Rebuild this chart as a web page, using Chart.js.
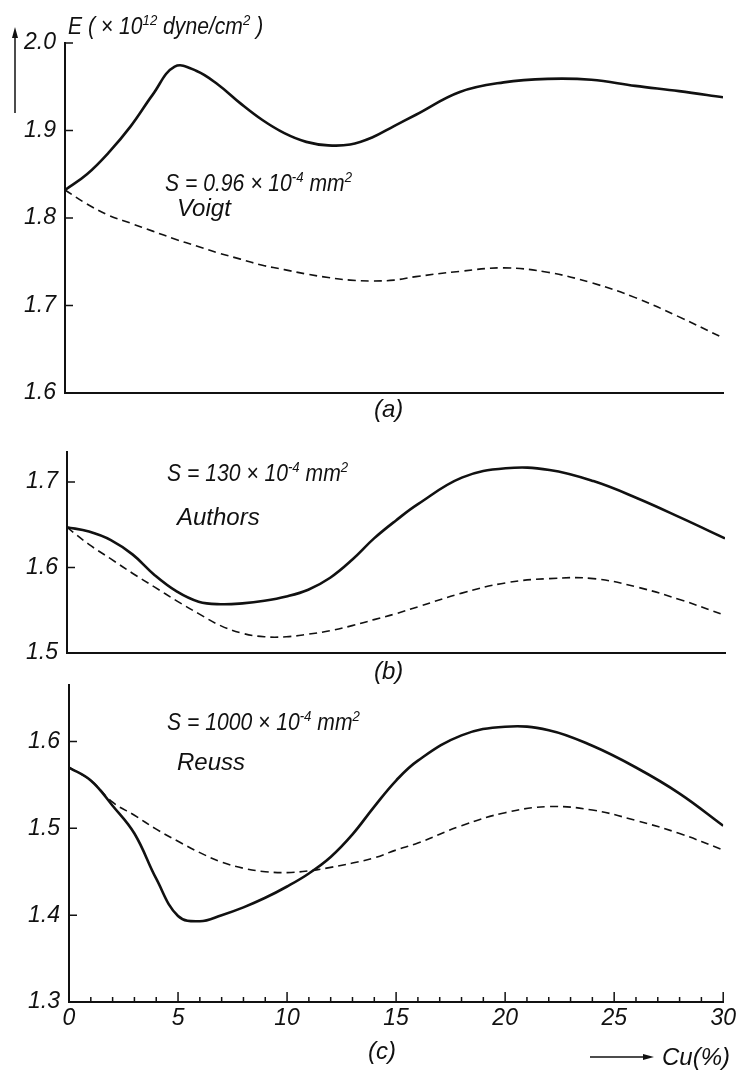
<!DOCTYPE html>
<html>
<head>
<meta charset="utf-8">
<script src="https://cdn.jsdelivr.net/npm/chart.js@4.4.0/dist/chart.umd.min.js"></script>
<style>
  body { margin: 0; background: #fff; }
  #page { position: relative; width: 739px; height: 1070px; overflow: hidden;
          font-family: 'Liberation Sans', sans-serif; font-style: italic; color: #111; }
  canvas { position: absolute; left: 0; }
  .lbl { position: absolute; font-size: 24px; line-height: 24px; white-space: nowrap; }
  .lbl sup { font-size: 15px; vertical-align: 9px; line-height: 0; }
  .narrow { transform: scaleX(0.88); transform-origin: left center; }
  svg { position: absolute; left: 0; top: 0; }
</style>
</head>
<body>
<div id="page">
  <canvas id="chartA" width="739" height="420" style="top:0px"></canvas>
  <canvas id="chartB" width="739" height="270" style="top:420px"></canvas>
  <canvas id="chartC" width="739" height="410" style="top:660px"></canvas>

  <div class="lbl narrow" style="left:68px; top:14px;">E ( × 10<sup>12</sup> dyne/cm<sup>2</sup> )</div>
  <div class="lbl narrow" style="left:165px; top:171px;">S = 0.96 × 10<sup>-4</sup> mm<sup>2</sup></div>
  <div class="lbl" style="left:177px; top:196px;">Voigt</div>
  <div class="lbl" style="left:374px; top:397px;">(a)</div>

  <div class="lbl narrow" style="left:167px; top:461px;">S = 130 × 10<sup>-4</sup> mm<sup>2</sup></div>
  <div class="lbl" style="left:177px; top:505px;">Authors</div>
  <div class="lbl" style="left:374px; top:659px;">(b)</div>

  <div class="lbl narrow" style="left:167px; top:710px;">S = 1000 × 10<sup>-4</sup> mm<sup>2</sup></div>
  <div class="lbl" style="left:177px; top:750px;">Reuss</div>
  <div class="lbl" style="left:368px; top:1039px;">(c)</div>
  <div class="lbl" style="left:662px; top:1045px;">Cu(%)</div>

  <svg width="739" height="1070">
    <line x1="15" y1="36" x2="15" y2="113" stroke="#111" stroke-width="1.5"/>
    <polygon points="15,27 12,38 18,38" fill="#111"/>
    <line x1="590" y1="1057" x2="645" y2="1057" stroke="#111" stroke-width="1.5"/>
    <polygon points="654,1057 643,1054 643,1060" fill="#111"/>
  </svg>
</div>

<script>
// Cu content (%)
const cu = [0, 1, 2, 3, 4, 5, 6, 7, 8, 9, 10, 11, 12, 13, 14, 15, 16, 18, 20, 22, 24, 26, 28, 30];

// (a) S = 0.96e-4 mm2, Voigt
const expA   = [1.832, 1.850, 1.875, 1.905, 1.941, 1.973, 1.968, 1.952, 1.931, 1.912, 1.897, 1.887, 1.883, 1.884, 1.892, 1.905, 1.918, 1.944, 1.955, 1.959, 1.958, 1.951, 1.945, 1.938];
const voigtA = [1.832, 1.816, 1.803, 1.794, 1.785, 1.776, 1.768, 1.760, 1.753, 1.746, 1.741, 1.736, 1.732, 1.729, 1.728, 1.729, 1.733, 1.739, 1.743, 1.738, 1.726, 1.709, 1.687, 1.663];

// (b) S = 130e-4 mm2, Authors
const expB     = [1.647, 1.642, 1.632, 1.615, 1.591, 1.572, 1.560, 1.557, 1.558, 1.561, 1.566, 1.574, 1.588, 1.609, 1.634, 1.655, 1.674, 1.705, 1.716, 1.714, 1.701, 1.681, 1.658, 1.634];
const authorsB = [1.647, 1.627, 1.610, 1.593, 1.577, 1.561, 1.546, 1.532, 1.523, 1.519, 1.519, 1.522, 1.526, 1.532, 1.539, 1.546, 1.554, 1.570, 1.582, 1.587, 1.587, 1.577, 1.562, 1.544];

// (c) S = 1000e-4 mm2, Reuss
const expC   = [1.570, 1.555, 1.526, 1.494, 1.442, 1.399, 1.393, 1.400, 1.409, 1.420, 1.433, 1.448, 1.467, 1.493, 1.525, 1.555, 1.578, 1.607, 1.617, 1.613, 1.595, 1.570, 1.540, 1.503];
const reussC = [1.570, 1.555, 1.530, 1.515, 1.499, 1.485, 1.472, 1.461, 1.454, 1.450, 1.449, 1.451, 1.455, 1.460, 1.466, 1.475, 1.483, 1.503, 1.518, 1.525, 1.521, 1.509, 1.494, 1.475];

const ink = "#111";
const tickFont = { family: "'Liberation Sans', sans-serif", size: 23, style: "italic" };

// ticks pointing into the plot, like the original drawing
const inwardTicks = {
  id: "inwardTicks",
  afterDraw(chart, args, opts) {
    const { ctx, chartArea, scales } = chart;
    ctx.save();
    ctx.strokeStyle = ink;
    ctx.lineWidth = 1.5;
    ctx.beginPath();
    scales.y.ticks.forEach((t) => {
      const py = scales.y.getPixelForValue(t.value);
      ctx.moveTo(chartArea.left, py);
      ctx.lineTo(chartArea.left + 8, py);
    });
    if (opts.xTicks) {
      scales.x.ticks.forEach((t) => {
        const px = scales.x.getPixelForValue(t.value);
        const len = t.value % 5 === 0 ? 10 : 5;
        ctx.moveTo(px, chartArea.bottom);
        ctx.lineTo(px, chartArea.bottom - len);
      });
    }
    ctx.stroke();
    ctx.restore();
  },
};

function toPoints(ys) {
  return cu.map((x, i) => ({ x: x, y: ys[i] }));
}

function makePanel(id, solid, dashed, yMin, yMax, box, showX) {
  new Chart(id, {
    type: "line",
    data: {
      datasets: [
        { data: toPoints(solid), borderColor: ink, borderWidth: 2.6, pointRadius: 0, tension: 0.4 },
        { data: toPoints(dashed), borderColor: ink, borderWidth: 1.6, borderDash: [8, 5], pointRadius: 0, tension: 0.4 },
      ],
    },
    options: {
      responsive: false,
      animation: false,
      layout: { padding: { top: box.top, right: box.right, left: 0, bottom: 0 } },
      plugins: { legend: { display: false }, tooltip: { enabled: false }, inwardTicks: { xTicks: showX } },
      scales: {
        x: {
          type: "linear",
          min: 0,
          max: 30,
          grid: { display: false, drawTicks: false },
          border: { display: true, width: 2, color: ink },
          ticks: {
            display: showX,
            stepSize: 1,
            autoSkip: false,
            maxRotation: 0,
            padding: 3,
            color: ink,
            font: tickFont,
            callback: (v) => (v % 5 === 0 ? String(v) : ""),
          },
          afterFit: (s) => { s.height = box.xh; },
        },
        y: {
          min: yMin,
          max: yMax,
          grid: { display: false, drawTicks: false },
          border: { display: true, width: 2, color: ink },
          ticks: {
            stepSize: 0.1,
            includeBounds: false,
            padding: 9,
            color: ink,
            font: tickFont,
            callback: (v) => v.toFixed(1),
          },
          afterFit: (s) => { s.width = box.yw; },
        },
      },
    },
    plugins: [inwardTicks],
  });
}

makePanel("chartA", expA, voigtA, 1.6, 2.0, { top: 43, right: 16, xh: 27, yw: 65 }, false);
makePanel("chartB", expB, authorsB, 1.5, 1.735, { top: 32, right: 14, xh: 37, yw: 67 }, false);
makePanel("chartC", expC, reussC, 1.3, 1.665, { top: 25, right: 13, xh: 68, yw: 69 }, true);
</script>
</body>
</html>
